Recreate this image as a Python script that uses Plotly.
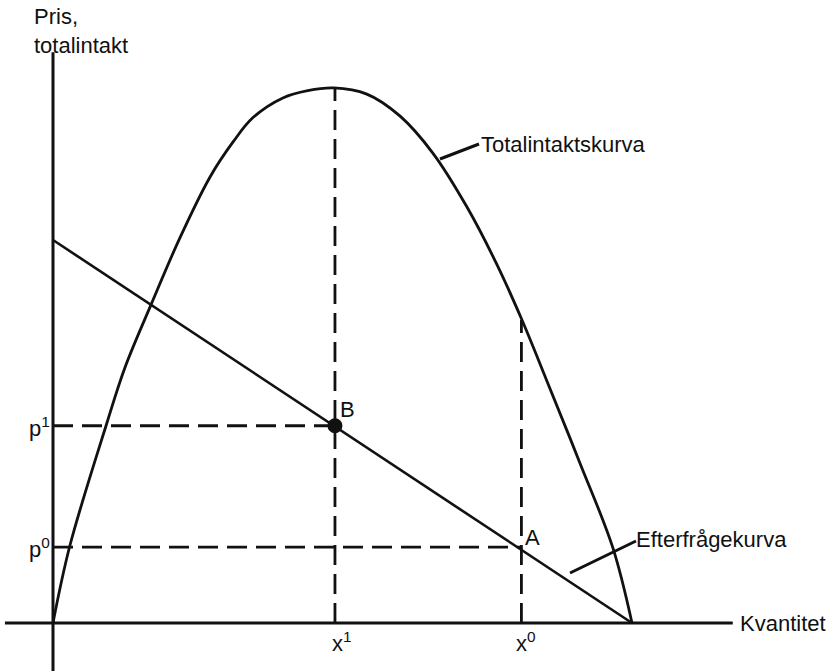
import plotly.graph_objects as go

# ---- data (chart units: demand line hits 10 on both axes) ----
revenue_x = [0, 0.29, 0.92, 1.24, 1.69, 2.19, 2.71, 3.11, 3.45, 3.97, 4.40, 4.85,
             5.42, 5.99, 6.56, 7.15, 7.67, 8.10, 8.53, 9.10, 9.67, 10.0]
revenue_y = [0, 2.01, 5.17, 6.66, 8.30, 10.05, 11.64, 12.56, 13.19, 13.71, 13.90, 13.97,
             13.81, 13.24, 12.27, 10.86, 9.35, 7.91, 6.32, 4.18, 1.96, 0]
demand_x = [0, 10]
demand_y = [10, 0]
x1, p1 = 4.87, 5.15      # point B
x0, p0 = 8.09, 1.98      # point A
rev_peak = 13.97
rev_at_x0 = 7.91
yaxis_ext = [-1.3, 14.9]
xaxis_ext = [-0.83, 11.74]

W, H = 831, 671
XR = [-53 / 57.9, (W - 53) / 57.9]
YR = [(623 - H) / 38.3, 623 / 38.3]
FONT = "Liberation Sans, Arial, sans-serif"
BLK = "#111111"


def px(xp):
    return XR[0] + xp / W * (XR[1] - XR[0])


def py(yp):
    return YR[1] - yp / H * (YR[1] - YR[0])


fig = go.Figure()

solid = dict(color=BLK, width=2.6)
dash = dict(color=BLK, width=2.8, dash="20px,9px")

# axes
fig.add_trace(go.Scatter(x=[0, 0], y=yaxis_ext, mode="lines", line=dict(color=BLK, width=3)))
fig.add_trace(go.Scatter(x=xaxis_ext, y=[0, 0], mode="lines", line=dict(color=BLK, width=3)))

# dashed guides
fig.add_trace(go.Scatter(x=[x1, x1], y=[0, rev_peak], mode="lines", line=dash))
fig.add_trace(go.Scatter(x=[x0, x0], y=[0, rev_at_x0], mode="lines", line=dash))
fig.add_trace(go.Scatter(x=[0, x1], y=[p1, p1], mode="lines", line=dash))
fig.add_trace(go.Scatter(x=[0, x0], y=[p0, p0], mode="lines", line=dash))

# curves
fig.add_trace(go.Scatter(x=revenue_x, y=revenue_y, mode="lines",
                         line=dict(color=BLK, width=2.8, shape="spline", smoothing=1.0)))
fig.add_trace(go.Scatter(x=demand_x, y=demand_y, mode="lines", line=solid))
fig.add_trace(go.Scatter(x=[x1], y=[p1], mode="markers",
                         marker=dict(color=BLK, size=15)))

# leader lines
fig.add_shape(type="line", x0=px(440), y0=py(159), x1=px(479), y1=py(144),
              line=dict(color=BLK, width=3))
fig.add_shape(type="line", x0=px(570), y0=py(573), x1=px(636), y1=py(541),
              line=dict(color=BLK, width=3))


def lab(text, xp, yp, xa="left", ya="middle", size=22):
    fig.add_annotation(x=px(xp), y=py(yp), xref="x", yref="y", text=text, showarrow=False,
                       xanchor=xa, yanchor=ya, align="left",
                       font=dict(family=FONT, size=size, color=BLK))


lab("Pris,<br>totalintakt", 32, 2, ya="top")
lab("Totalintaktskurva", 479, 144)
lab("Efterfrågekurva", 634, 539)
lab("Kvantitet", 738, 623)
lab("p<sup>1</sup>", 52, 427, xa="right")
lab("p<sup>0</sup>", 52, 548, xa="right")
lab("x<sup>1</sup>", 342, 626, xa="center", ya="top")
lab("x<sup>0</sup>", 526, 626, xa="center", ya="top")
lab("B", 338, 409)
lab("A", 523, 537)

fig.update_layout(
    width=W, height=H, margin=dict(l=0, r=0, t=0, b=0),
    paper_bgcolor="white", plot_bgcolor="white", showlegend=False,
    xaxis=dict(range=XR, visible=False, fixedrange=True),
    yaxis=dict(range=YR, visible=False, fixedrange=True),
)
fig.write_html("out.html", config={"displayModeBar": False},
               post_script="document.body.style.margin='0';document.body.style.overflow='hidden';")
